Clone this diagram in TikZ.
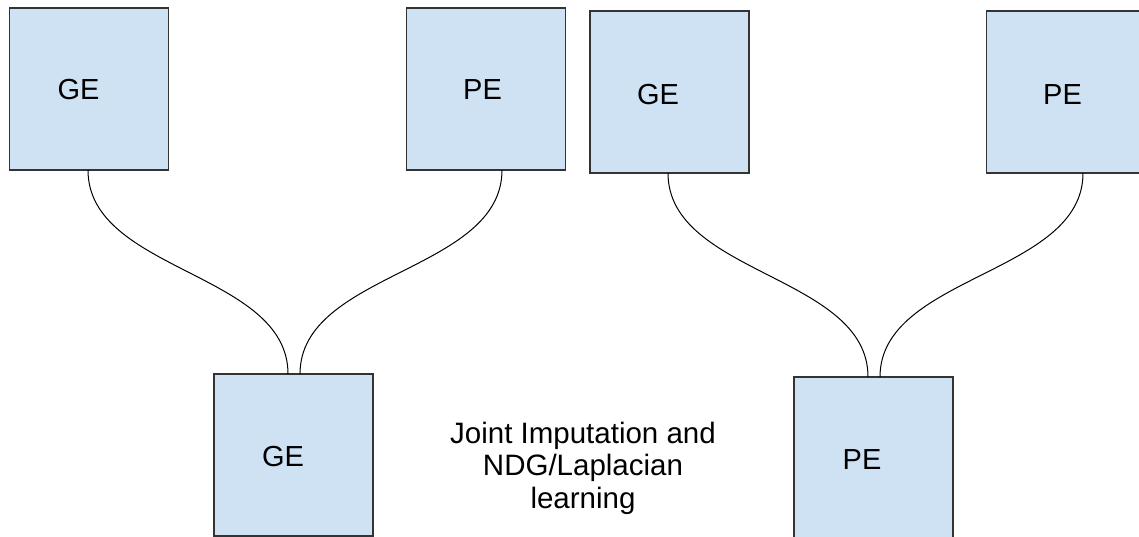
\documentclass[tikz,border=0pt]{standalone}
\usepackage{fontspec}
\setmainfont{Liberation Sans}
\usetikzlibrary{calc}
\definecolor{boxfill}{HTML}{CFE2F3}
\definecolor{boxline}{HTML}{333333}
\tikzset{
  blockbox/.style={draw=boxline, fill=boxfill, line width=1.5pt, minimum width=159pt, minimum height=162pt, inner sep=0pt, outer sep=0pt},
  boxtext/.style={font=\fontsize{29}{31}\selectfont, text=black, inner sep=0pt},
  link/.style={draw=black, line width=1pt}
}
\begin{document}
\begin{tikzpicture}[x=1pt,y=-1pt]
\useasboundingbox (0,0) rectangle (1139,536);
\clip (0,0) rectangle (1139,536);
\node[blockbox] (b1) at (89,89) {};
\node[blockbox] (b2) at (486,89) {};
\node[blockbox] (b3) at (669.5,92) {};
\node[blockbox] (b4) at (1066,92) {};
\node[blockbox] (b5) at (293.5,455) {};
\node[blockbox] (b6) at (873.5,458) {};
\node[boxtext] (t1) at (78.5,90) {GE};
\node[boxtext] (t2) at (482.5,90) {PE};
\node[boxtext] (t3) at (658,95) {GE};
\node[boxtext] (t4) at (1062.5,95) {PE};
\node[boxtext] (t5) at (283,457) {GE};
\node[boxtext] (t6) at (862,460) {PE};
\node[font=\fontsize{29.5}{32.5}\selectfont, align=center, inner sep=0pt] (jt) at (583,468) {Joint Imputation and\\NDG/Laplacian\\learning};
\coordinate (c1) at ($(b1.south)+(-1,0)$);
\coordinate (c2) at ($(b2.south)+(16,0)$);
\coordinate (c5a) at ($(b5.north)+(-5.5,0)$);
\coordinate (c5b) at ($(b5.north)+(6.5,0)$);
\coordinate (c3) at ($(b3.south)+(-1.5,0)$);
\coordinate (c4) at ($(b4.south)+(17,0)$);
\coordinate (c6a) at ($(b6.north)+(-5.5,0)$);
\coordinate (c6b) at ($(b6.north)+(6.5,0)$);
\draw[link] (c1) .. controls +(0,102) and +(0,-102) .. (c5a);
\draw[link] (c2) .. controls +(0,102) and +(0,-102) .. (c5b);
\draw[link] (c3) .. controls +(0,102) and +(0,-102) .. (c6a);
\draw[link] (c4) .. controls +(0,102) and +(0,-102) .. (c6b);
\end{tikzpicture}
\end{document}
